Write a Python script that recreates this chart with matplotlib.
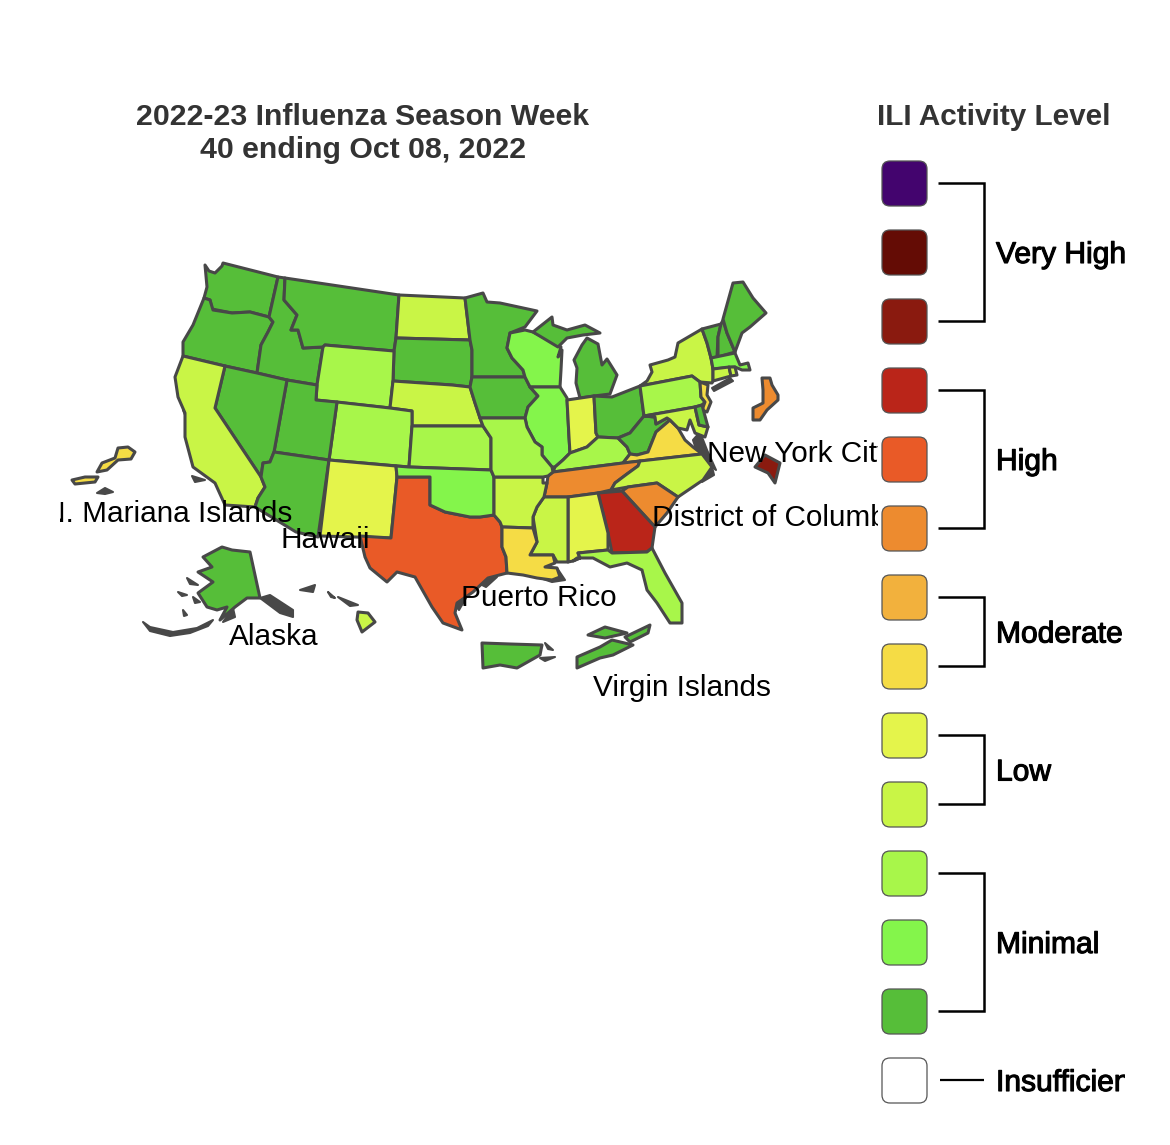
# encoding: UTF-8
import matplotlib
matplotlib.use('Agg')
import matplotlib.pyplot as plt
from matplotlib.patches import Polygon, FancyBboxPatch, Rectangle
import matplotlib.patheffects as pe

plt.rcParams['font.family'] = ['Liberation Sans', 'DejaVu Sans']

# niveles de actividad, de mayor a menor
level_colors = ['#43046E', '#640C05', '#8A1A0F', '#BA2519', '#E95A27', '#ED8B2F', '#F2B13D',
                '#F5DC45', '#E4F44B', '#C9F546', '#A8F64A', '#84F54B', '#56BE39', '#FFFFFF']
group_names = ['Very High', 'High', 'Moderate', 'Low', 'Minimal', 'Insufficient Data']
group_first = [0, 3, 6, 8, 10, 13]
group_last = [2, 5, 7, 9, 12, 13]

title_lines = ['2022-23 Influenza Season Week', '40 ending Oct 08, 2022']
legend_title = 'ILI Activity Level'

# contornos (pixeles de la referencia)
WA = [(205,265),(209,271),(215,273),(222,266),(223,263),(278,277),(269,317),(250,312),(232,313),(212,309),(210,300),(204,298),(207,287)]
OR = [(204,298),(210,300),(213,310),(232,313),(250,312),(269,317),(273,322),(268,332),(261,345),(257,373),(225,366),(183,356),(183,342),(193,325)]
ID = [(278,277),(285,278),(284,300),(297,315),(291,330),(298,330),(303,348),(323,347),(317,385),(287,380),(257,373),(261,345),(268,332),(273,322),(269,317)]
MT = [(285,278),(399,295),(396,338),(394,351),(325,345),(323,347),(303,348),(298,330),(291,330),(297,315),(284,300)]
ND = [(399,295),(465,298),(470,340),(396,338)]
SD = [(396,338),(470,340),(472,350),(472,377),(470,387),(452,385),(393,381),(394,351)]
WY = [(325,345),(394,351),(393,381),(390,408),(316,400),(317,385),(323,347)]
NE = [(393,381),(452,385),(470,387),(475,403),(480,418),(483,426),(412,426),(412,411),(390,408)]
CO = [(337,402),(390,408),(412,411),(412,426),(409,467),(329,460)]
KS = [(412,426),(483,426),(491,438),(491,470),(409,467)]
UT = [(287,380),(317,385),(316,400),(337,402),(329,460),(274,452)]
NV = [(225,366),(257,373),(287,380),(274,452),(270,462),(263,463),(261,477),(215,408)]
CA = [(183,356),(225,366),(215,408),(261,477),(265,487),(258,498),(255,507),(225,505),(215,483),(193,467),(185,437),(185,413),(178,397),(175,377)]
AZ = [(274,452),(329,460),(318,537),(296,532),(255,507),(258,498),(265,487),(261,477),(263,463),(270,462)]
NM = [(329,460),(396,466),(397,477),(391,538),(320,536)]
TX = [(397,477),(430,477),(430,505),(445,512),(470,517),(480,517),(494,515),(500,522),(502,527),(502,547),(506,557),(507,573),(488,578),(473,592),(457,603),(455,613),(462,630),(443,623),(432,607),(415,577),(397,572),(387,582),(370,568),(365,557),(360,536),(391,538)]
OK = [(396,466),(409,467),(491,470),(494,477),(494,515),(480,517),(470,517),(445,512),(430,505),(430,477),(397,477)]
MN = [(465,298),(483,293),(487,302),(500,303),(537,311),(525,327),(510,333),(507,348),(512,358),(523,370),(525,377),(472,377),(472,350),(470,340)]
IA = [(472,377),(525,377),(530,387),(538,396),(528,407),(525,418),(480,418),(475,403),(470,387)]
WI = [(510,333),(525,330),(533,332),(558,345),(561,347),(558,357),(562,350),(561,370),(560,387),(530,387),(525,377),(523,370),(512,358),(507,348)]
MI_UP = [(533,332),(552,317),(553,325),(567,330),(585,325),(600,333),(583,335),(567,338),(558,347)]
MI_LOW = [(587,338),(598,344),(602,365),(607,359),(617,375),(610,394),(594,396),(580,398),(576,383),(577,368),(574,360),(582,345)]
IL = [(530,387),(560,387),(567,398),(569,437),(570,453),(563,460),(555,467),(552,467),(542,455),(542,447),(535,442),(527,427),(525,418),(528,407),(538,396)]
IN = [(567,400),(594,396),(596,433),(598,437),(587,447),(570,453),(569,437)]
OH = [(594,396),(612,397),(640,386),(644,416),(630,433),(618,438),(598,437),(596,433)]
KY = [(553,472),(555,467),(563,460),(570,453),(587,447),(598,437),(618,438),(627,447),(630,454),(623,463)]
WV = [(630,433),(644,416),(655,417),(656,424),(667,418),(670,420),(656,432),(648,452),(637,455),(630,454),(627,447),(618,438)]
VA = [(623,463),(630,454),(637,455),(648,452),(656,432),(670,420),(678,428),(685,440),(693,447),(702,454)]
TN = [(548,476),(553,472),(623,463),(640,461),(638,466),(627,474),(615,483),(611,490),(598,493),(568,497),(544,497),(547,483)]
NC = [(611,490),(615,483),(627,474),(638,466),(640,461),(702,454),(712,467),(703,480),(678,497),(657,483),(628,487)]
SC = [(628,487),(657,483),(678,497),(667,513),(655,527),(622,491)]
GA = [(598,493),(622,491),(655,527),(652,548),(647,552),(612,553),(608,533)]
AL = [(568,497),(598,493),(608,533),(608,550),(578,553),(580,558),(573,561),(568,562)]
MS = [(544,497),(568,497),(568,562),(557,562),(553,555),(530,555),(537,542),(533,517),(537,507)]
AR = [(494,477),(543,477),(543,483),(547,483),(544,497),(537,507),(533,517),(533,528),(502,527),(500,522),(494,515)]
LA = [(502,527),(533,528),(537,542),(530,555),(553,555),(555,563),(545,567),(557,568),(560,577),(552,580),(537,578),(523,575),(507,573),(506,557),(502,547)]
MO = [(480,418),(525,418),(527,427),(535,442),(542,447),(542,455),(552,467),(553,472),(548,476),(543,477),(494,477),(491,470),(491,438),(483,426)]
FL = [(573,561),(580,558),(578,553),(608,550),(612,553),(647,552),(652,548),(665,573),(682,603),(682,623),(670,623),(657,603),(647,590),(642,570),(627,563),(610,567),(593,558),(577,558)]
NY = [(640,386),(647,381),(652,372),(650,365),(668,360),(675,357),(678,343),(702,329),(707,343),(711,358),(713,369),(713,381),(712,383),(700,382),(692,376)]
PA = [(640,386),(692,376),(700,382),(701,397),(705,402),(702,405),(695,407),(644,416)]
NJ = [(700,382),(708,385),(707,395),(711,402),(707,412),(702,410),(705,402),(701,397)]
VT = [(702,329),(721,324),(718,337),(717,357),(711,358),(707,343)]
NH = [(721,324),(723,320),(727,333),(735,352),(718,357),(718,337)]
ME = [(723,319),(733,283),(743,282),(753,298),(766,313),(750,327),(742,333),(735,352),(727,333)]
MA = [(711,358),(735,353),(740,365),(748,363),(750,370),(742,370),(735,367),(713,369)]
CT = [(713,369),(729,367),(731,376),(713,381)]
RI = [(729,367),(735,367),(737,375),(731,376)]
MD = [(644,416),(695,407),(699,425),(708,427),(705,437),(695,433),(690,420),(687,430),(678,428),(670,420),(667,418),(656,424),(655,417)]
DE = [(695,407),(702,405),(708,427),(699,425)]
DC = [(755,467),(765,455),(780,463),(775,483),(768,473)]
NYC = [(762,378),(770,378),(772,385),(778,395),(778,400),(767,410),(760,420),(753,420),(753,408),(763,403),(763,390)]
AK = [(222,547),(232,550),(250,552),(260,598),(247,598),(235,607),(220,620),(227,607),(217,610),(207,607),(198,593),(213,582),(198,572),(212,567),(203,557)]
HI = [(358,612),(368,613),(375,622),(362,632),(357,620)]
MP_A = [(118,448),(128,447),(135,452),(131,459),(118,460),(107,470),(97,472),(102,463),(115,458)]
MP_B = [(72,480),(85,477),(98,477),(95,482),(75,484)]
PR = [(482,643),(510,644),(542,645),(540,655),(517,668),(500,665),(483,668)]
VI_A = [(577,657),(600,647),(612,640),(633,645),(613,655),(600,658),(577,668)]
VI_B = [(588,635),(605,627),(627,633),(605,638)]
VI_C = [(625,637),(650,625),(648,633),(630,642)]

region_shapes = [WA, OR, ID, MT, ND, SD, WY, NE, CO, KS, UT, NV, CA, AZ, NM, TX, OK, MN, IA, WI,
                 MI_UP, MI_LOW, IL, IN, OH, KY, WV, VA, TN, NC, SC, GA, AL, MS, AR, LA, MO, FL,
                 NY, PA, NJ, VT, NH, ME, MA, CT, RI, MD, DE, DC, NYC, AK, HI, MP_A, MP_B, PR,
                 VI_A, VI_B, VI_C]
# indice de level_colors para cada region, mismo orden que region_shapes
region_levels = [12, 12, 12, 12, 9, 12, 10, 9, 10, 10, 12, 12, 9, 12, 8, 4, 11, 12, 12, 11,
                 12, 12, 11, 8, 12, 10, 12, 7, 5, 9, 5, 3, 8, 9, 9, 7, 10, 10,
                 9, 10, 7, 12, 12, 12, 11, 9, 9, 9, 12, 2, 5, 12, 9, 7, 7, 12,
                 12, 12, 12]

# islas y costas sin dato, solo gris oscuro
dark_shapes = [
    [(143,622),(150,627),(173,632),(197,628),(213,620),(208,626),(190,633),(170,636),(150,631)],
    [(260,598),(270,595),(293,610),(293,617),(280,613)],
    [(223,622),(233,608),(235,617)],
    [(187,578),(198,585),(190,584)],
    [(178,592),(187,595),(182,596)],
    [(193,597),(200,602),(195,603)],
    [(183,610),(187,615),(184,616)],
    [(328,592),(335,598),(331,597)],
    [(338,597),(358,605),(350,606)],
    [(300,590),(315,585),(313,592)],
    [(97,493),(105,488),(113,492),(105,494)],
    [(540,658),(555,657),(545,661)],
    [(545,643),(553,650),(548,649)],
    [(214,283),(222,271),(224,278),(220,288)],
    [(183,410),(197,412),(187,420)],
    [(192,476),(205,480),(195,482)],
    [(712,388),(730,378),(733,381),(714,391)],
    [(693,440),(697,452),(702,454),(712,467),(716,470),(707,450),(700,432)],
    [(545,567),(557,568),(565,580),(552,582),(540,578)],
    [(480,584),(494,574),(497,577),(486,587)],
    [(455,605),(463,595),(466,598),(459,610)],
    [(703,470),(712,467),(714,475),(702,482)],
]

map_labels = ['N. Mariana Islands', 'Hawaii', 'Alaska', 'Puerto Rico', 'Virgin Islands',
              'New York City', 'District of Columbia']
label_x = [292, 325, 274, 539, 682, 707, 652]
label_y = [514, 540, 637, 598, 688, 454, 518]
label_ha = ['right', 'center', 'center', 'center', 'center', 'left', 'left']

EDGE = '#484848'


def main():
    fig = plt.figure(figsize=(11.7, 11.45), dpi=100)
    ax = fig.add_axes([0, 0, 1, 1])
    ax.set_xlim(0, 1170)
    ax.set_ylim(1145, 0)
    ax.axis('off')

    for shape in dark_shapes:
        ax.add_patch(Polygon(shape, closed=True, fc=EDGE, ec=EDGE, lw=1.5, joinstyle='round'))
    for shape, level in zip(region_shapes, region_levels):
        ax.add_patch(Polygon(shape, closed=True, fc=level_colors[level], ec=EDGE, lw=2.2, joinstyle='round'))

    # textos del mapa, el svg original los corta en x=60 y x=878
    clip = Rectangle((60, 0), 818, 1145, transform=ax.transData)
    for label, x, y, ha in zip(map_labels, label_x, label_y, label_ha):
        t = ax.text(x, y, label, fontsize=21.4, color='black', ha=ha, va='center')
        t.set_clip_on(True)
        t.set_clip_path(clip)

    for i, line in enumerate(title_lines):
        ax.text(363, 117 + 33 * i, line, fontsize=21.8, fontweight='bold', color='#333333', ha='center', va='center')
    ax.text(994, 117, legend_title, fontsize=21.4, fontweight='bold', color='#333333', ha='center', va='center')

    # leyenda
    for i, color in enumerate(level_colors):
        top = 161 + 69 * i
        ax.add_patch(FancyBboxPatch((887, top + 5), 35, 35, boxstyle='round,pad=5,rounding_size=8',
                                    fc=color, ec='#555555', lw=0.9))

    clip_legend = Rectangle((0, 0), 1125, 1145, transform=ax.transData)
    for name, first, last in zip(group_names, group_first, group_last):
        y0 = 183 + 69 * first
        y1 = 183 + 69 * last
        if first == last:
            ax.plot([940, 984], [y0, y0], color='black', lw=1.6, solid_capstyle='butt')
        else:
            ax.plot([938, 984, 984, 938], [y0, y0, y1, y1], color='black', lw=1.8,
                    solid_joinstyle='miter', solid_capstyle='butt')
        t = ax.text(996, (y0 + y1) / 2.0 + 3, name, fontsize=21.6, color='black', ha='left', va='center',
                    path_effects=[pe.withStroke(linewidth=0.8, foreground='black')])
        t.set_clip_on(True)
        t.set_clip_path(clip_legend)

    fig.savefig('out.png', dpi=100, facecolor='white')


if __name__ == "__main__":
    main()
